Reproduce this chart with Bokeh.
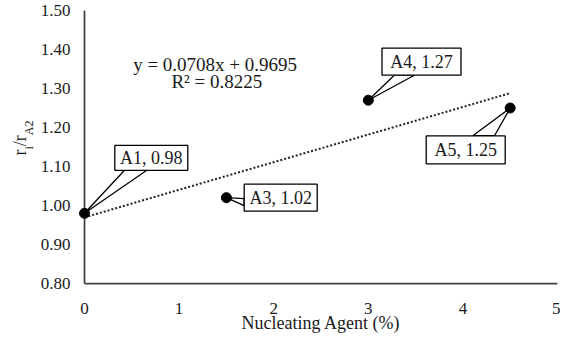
from bokeh.plotting import figure
from bokeh.models import Range1d, Label, FixedTicker, NumeralTickFormatter
from bokeh.embed import file_html
from bokeh.resources import INLINE

# ---- data ----
samples = ["A1", "A3", "A4", "A5"]
agent = [0.0, 1.5, 3.0, 4.5]
ratio = [0.98, 1.02, 1.27, 1.25]
slope = 0.0708
intercept = 0.9695
r_squared = 0.8225
x_ticks = [0, 1, 2, 3, 4, 5]
y_ticks = [0.8, 0.9, 1.0, 1.1, 1.2, 1.3, 1.4, 1.5]

# ---- layout / style ----
FONT = "Liberation Serif"
W, H = 560, 342
BL, BR, BT, BB = 84, 3, 10, 59
FW, FH = W - BL - BR, H - BT - BB
x0, x1 = x_ticks[0], x_ticks[-1]
y0, y1 = y_ticks[0], y_ticks[-1]
px_x = FW / (x1 - x0)
px_y = FH / (y1 - y0)

# callout styling (pixel offsets relative to each point; y positive = up)
box_dx = [66.8, 54.3, 53.2, -44.5]
box_dy = [55.5, 0.0, 38.5, -41.9]
box_w = [73, 73, 79, 79]
box_h = [25, 27, 27, 28]
ptr_a = [(40.0, 43.0), (17.7, -1.0), (26.0, 25.0), (-37.4, -27.7)]
ptr_b = [(62.3, 43.0), (17.7, -8.0), (46.0, 25.0), (-15.7, -27.7)]

p = figure(width=W, height=H, x_range=Range1d(x0, x1), y_range=Range1d(y0, y1),
           output_backend="svg", toolbar_location=None,
           min_border_left=BL, min_border_right=BR, min_border_top=BT, min_border_bottom=BB)
p.outline_line_color = None
p.xgrid.grid_line_color = None
p.ygrid.grid_line_color = None
p.background_fill_color = "white"
p.border_fill_color = "white"

for ax in (p.xaxis[0], p.yaxis[0]):
    ax.axis_line_color = "#404040"
    ax.axis_line_width = 1.75
    ax.major_tick_line_color = None
    ax.minor_tick_line_color = None
    ax.major_tick_in = 0
    ax.major_tick_out = 0
    ax.minor_tick_in = 0
    ax.minor_tick_out = 0
    ax.major_label_text_font = FONT
    ax.major_label_text_font_size = "17px"
    ax.major_label_text_color = "#1a1a1a"
    ax.axis_label_text_font = FONT
    ax.axis_label_text_font_size = "18px"
    ax.axis_label_text_font_style = "normal"
    ax.axis_label_text_color = "#1a1a1a"

p.xaxis.ticker = FixedTicker(ticks=x_ticks)
p.yaxis.ticker = FixedTicker(ticks=y_ticks)
p.yaxis.formatter = NumeralTickFormatter(format="0.00")
p.xaxis.major_label_standoff = 19
p.yaxis.major_label_standoff = 14
p.xaxis.axis_label = "Nucleating Agent (%)"
p.xaxis.axis_label_standoff = -4

# trendline
tx = [min(agent), max(agent)]
ty = [slope * v + intercept for v in tx]
tl = p.line(tx, ty, line_color="#222222", line_width=2, line_dash="2 2")
tl.level = "overlay"

# callout pointers, boxes, texts
pxs, pys, bx, by, texts = [], [], [], [], []
for i, (xv, yv) in enumerate(zip(agent, ratio)):
    a, b = ptr_a[i], ptr_b[i]
    pxs.append([xv + a[0] / px_x, xv, xv + b[0] / px_x])
    pys.append([yv + a[1] / px_y, yv, yv + b[1] / px_y])
    bx.append(xv + box_dx[i] / px_x)
    by.append(yv + box_dy[i] / px_y)
    texts.append(f"{samples[i]}, {ratio[i]:.2f}")

pr = p.patches(pxs, pys, fill_color="white", line_color="black", line_width=1.3)
pr.level = "overlay"
br = p.rect(bx, by, width=box_w, height=box_h, width_units="screen", height_units="screen",
            fill_color="white", line_color="black", line_width=1.3)
br.level = "overlay"
tr = p.text(bx, by, text=texts, text_align="center", text_baseline="middle",
            text_font_size="18px", text_color="#1a1a1a")
tr.glyph.text_font = FONT
tr.level = "overlay"

# markers
sc = p.scatter(agent, ratio, size=10, fill_color="black", line_color="black")
sc.level = "overlay"

# equation
eq1 = f"y = {slope:.4f}x + {intercept:.4f}"
eq2 = f"R\u00b2 = {r_squared:.4f}"
p.add_layout(Label(x=x0, y=y1, x_offset=130.6, y_offset=-54.0, text=eq1, text_align="center",
                   text_baseline="middle", text_font=FONT, text_font_size="19px",
                   text_color="#1a1a1a"))
p.add_layout(Label(x=x0, y=y1, x_offset=132.3, y_offset=-70.7, text=eq2, text_align="center",
                   text_baseline="middle", text_font=FONT, text_font_size="19px",
                   text_color="#1a1a1a"))

# y axis title r_i / r_A2 built from pieces (pixel positions relative to frame-left / mid-height)
ymid = (y0 + y1) / 2
part_text = ["r", "i", "/", "r", "A2"]
part_size = ["18px", "12px", "18px", "18px", "12px"]
part_dx = [-65, -56, -65, -65, -56]
part_dy = [-8.5, -2.5, 0.8, 5.8, 11.8]
tx_ = [x0 + d / px_x for d in part_dx]
ty_ = [ymid + d / px_y for d in part_dy]
yt = p.text(tx_, ty_, text=part_text, text_font_size=part_size, angle=1.5707963,
            text_align="left", text_baseline="alphabetic", text_color="#1a1a1a")
yt.glyph.text_font = FONT
yt.level = "overlay"

open("out.html", "w").write(file_html(p, INLINE))
